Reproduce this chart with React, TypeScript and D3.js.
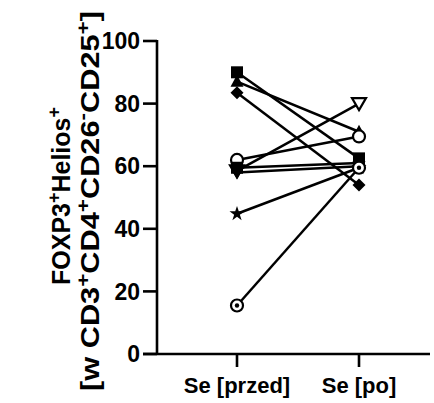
import React from "react";
import * as d3 from "d3";

const groups = ["Se [przed]", "Se [po]"];
const yTicks = [0, 20, 40, 60, 80, 100];
const shapes = ["square", "triangle", "diamond", "circle", "triangleDownOpen", "squareB", "triangleDown", "star", "circleDot"];
const before = [90, 87, 83.5, 62, 58.5, 59.5, 58, 44.8, 15.5];
const after = [62.5, 71, 54, 69.5, 80, 61, 60, 59.5, 59.5];

const W = 434;
const H = 403;

function Marker({ shape, x, y }: { shape: string; x: number; y: number }) {
  const s = 6;
  switch (shape) {
    case "square":
    case "squareB":
      return <rect x={x - s} y={y - s} width={2 * s} height={2 * s} fill="#000" />;
    case "triangle":
      return <path d={`M${x},${y - 7}L${x + 6.5},${y + 5}L${x - 6.5},${y + 5}Z`} fill="#000" />;
    case "triangleDown":
      return <path d={`M${x},${y + 7}L${x + 6.5},${y - 5}L${x - 6.5},${y - 5}Z`} fill="#000" />;
    case "triangleDownOpen":
      return (
        <path d={`M${x},${y + 6.5}L${x + 7},${y - 5.5}L${x - 7},${y - 5.5}Z`} fill="#fff" stroke="#000" strokeWidth={2.2} strokeLinejoin="miter" />
      );
    case "diamond":
      return <path d={`M${x},${y - 6.5}L${x + 6.5},${y}L${x},${y + 6.5}L${x - 6.5},${y}Z`} fill="#000" />;
    case "circle":
      return <circle cx={x} cy={y} r={6} fill="#fff" stroke="#000" strokeWidth={2.2} />;
    case "circleDot":
      return (
        <g>
          <circle cx={x} cy={y} r={6} fill="#fff" stroke="#000" strokeWidth={2.2} />
          <circle cx={x} cy={y} r={2.2} fill="#000" />
        </g>
      );
    case "star":
      return <path d={d3.symbol(d3.symbolStar, 70)() as string} transform={`translate(${x},${y})`} fill="#000" />;
    default:
      return null;
  }
}

export default function App() {
  const y = d3.scaleLinear().domain([0, 100]).range([354, 41]);
  const x = d3.scalePoint<string>().domain(groups).range([237, 359]);
  const axisX = 157;
  const font = "'Liberation Sans', Arial, sans-serif";
  const order = shapes.map((_, i) => i);

  return (
    <svg width={W} height={H} style={{ position: "absolute", left: 0, top: 0, background: "#fff" }}>
      {/* axes */}
      <line x1={axisX} x2={axisX} y1={y(100) - 1} y2={y(0)} stroke="#000" strokeWidth={2.6} />
      <line x1={143} x2={430} y1={y(0)} y2={y(0)} stroke="#000" strokeWidth={2.6} />
      {yTicks.map((t) => (
        <g key={t}>
          <line x1={143} x2={axisX} y1={y(t)} y2={y(t)} stroke="#000" strokeWidth={2.6} />
          <text x={140} y={y(t)} dy="0.36em" textAnchor="end" fontFamily={font} fontWeight="bold" fontSize={23}>
            {t}
          </text>
        </g>
      ))}
      {groups.map((g) => (
        <g key={g}>
          <line x1={x(g)} x2={x(g)} y1={y(0)} y2={y(0) + 13} stroke="#000" strokeWidth={2.6} />
          <text x={x(g)} y={393} textAnchor="middle" fontFamily={font} fontWeight="bold" fontSize={22}>
            {g}
          </text>
        </g>
      ))}

      {/* axis title */}
      <g transform="translate(70,196) rotate(-90)">
        <text textAnchor="middle" fontFamily={font} fontWeight="bold" fontSize={25}>
          FOXP3<tspan dy="-10" fontSize={18}>+</tspan>
          <tspan dy="10">Helios</tspan>
          <tspan dy="-10" fontSize={18}>+</tspan>
        </text>
      </g>
      <g transform="translate(99,201) rotate(-90)">
        <text textAnchor="middle" fontFamily={font} fontWeight="bold" fontSize={26} textLength={380} lengthAdjust="spacingAndGlyphs">
          [w CD3<tspan dy="-10" fontSize={19}>+</tspan>
          <tspan dy="10">CD4</tspan>
          <tspan dy="-10" fontSize={19}>+</tspan>
          <tspan dy="10">CD26</tspan>
          <tspan dy="-10" fontSize={19}>-</tspan>
          <tspan dy="10">CD25</tspan>
          <tspan dy="-10" fontSize={19}>+</tspan>
          <tspan dy="10">]</tspan>
        </text>
      </g>

      {/* paired lines */}
      {order.map((i) => (
        <line
          key={`l${i}`}
          x1={x(groups[0])}
          y1={y(before[i])}
          x2={x(groups[1])}
          y2={y(after[i])}
          stroke="#000"
          strokeWidth={2.5}
        />
      ))}
      {order.map((i) => (
        <g key={`m${i}`}>
          <Marker shape={shapes[i]} x={x(groups[0]) as number} y={y(before[i])} />
          <Marker shape={shapes[i]} x={x(groups[1]) as number} y={y(after[i])} />
        </g>
      ))}
    </svg>
  );
}
